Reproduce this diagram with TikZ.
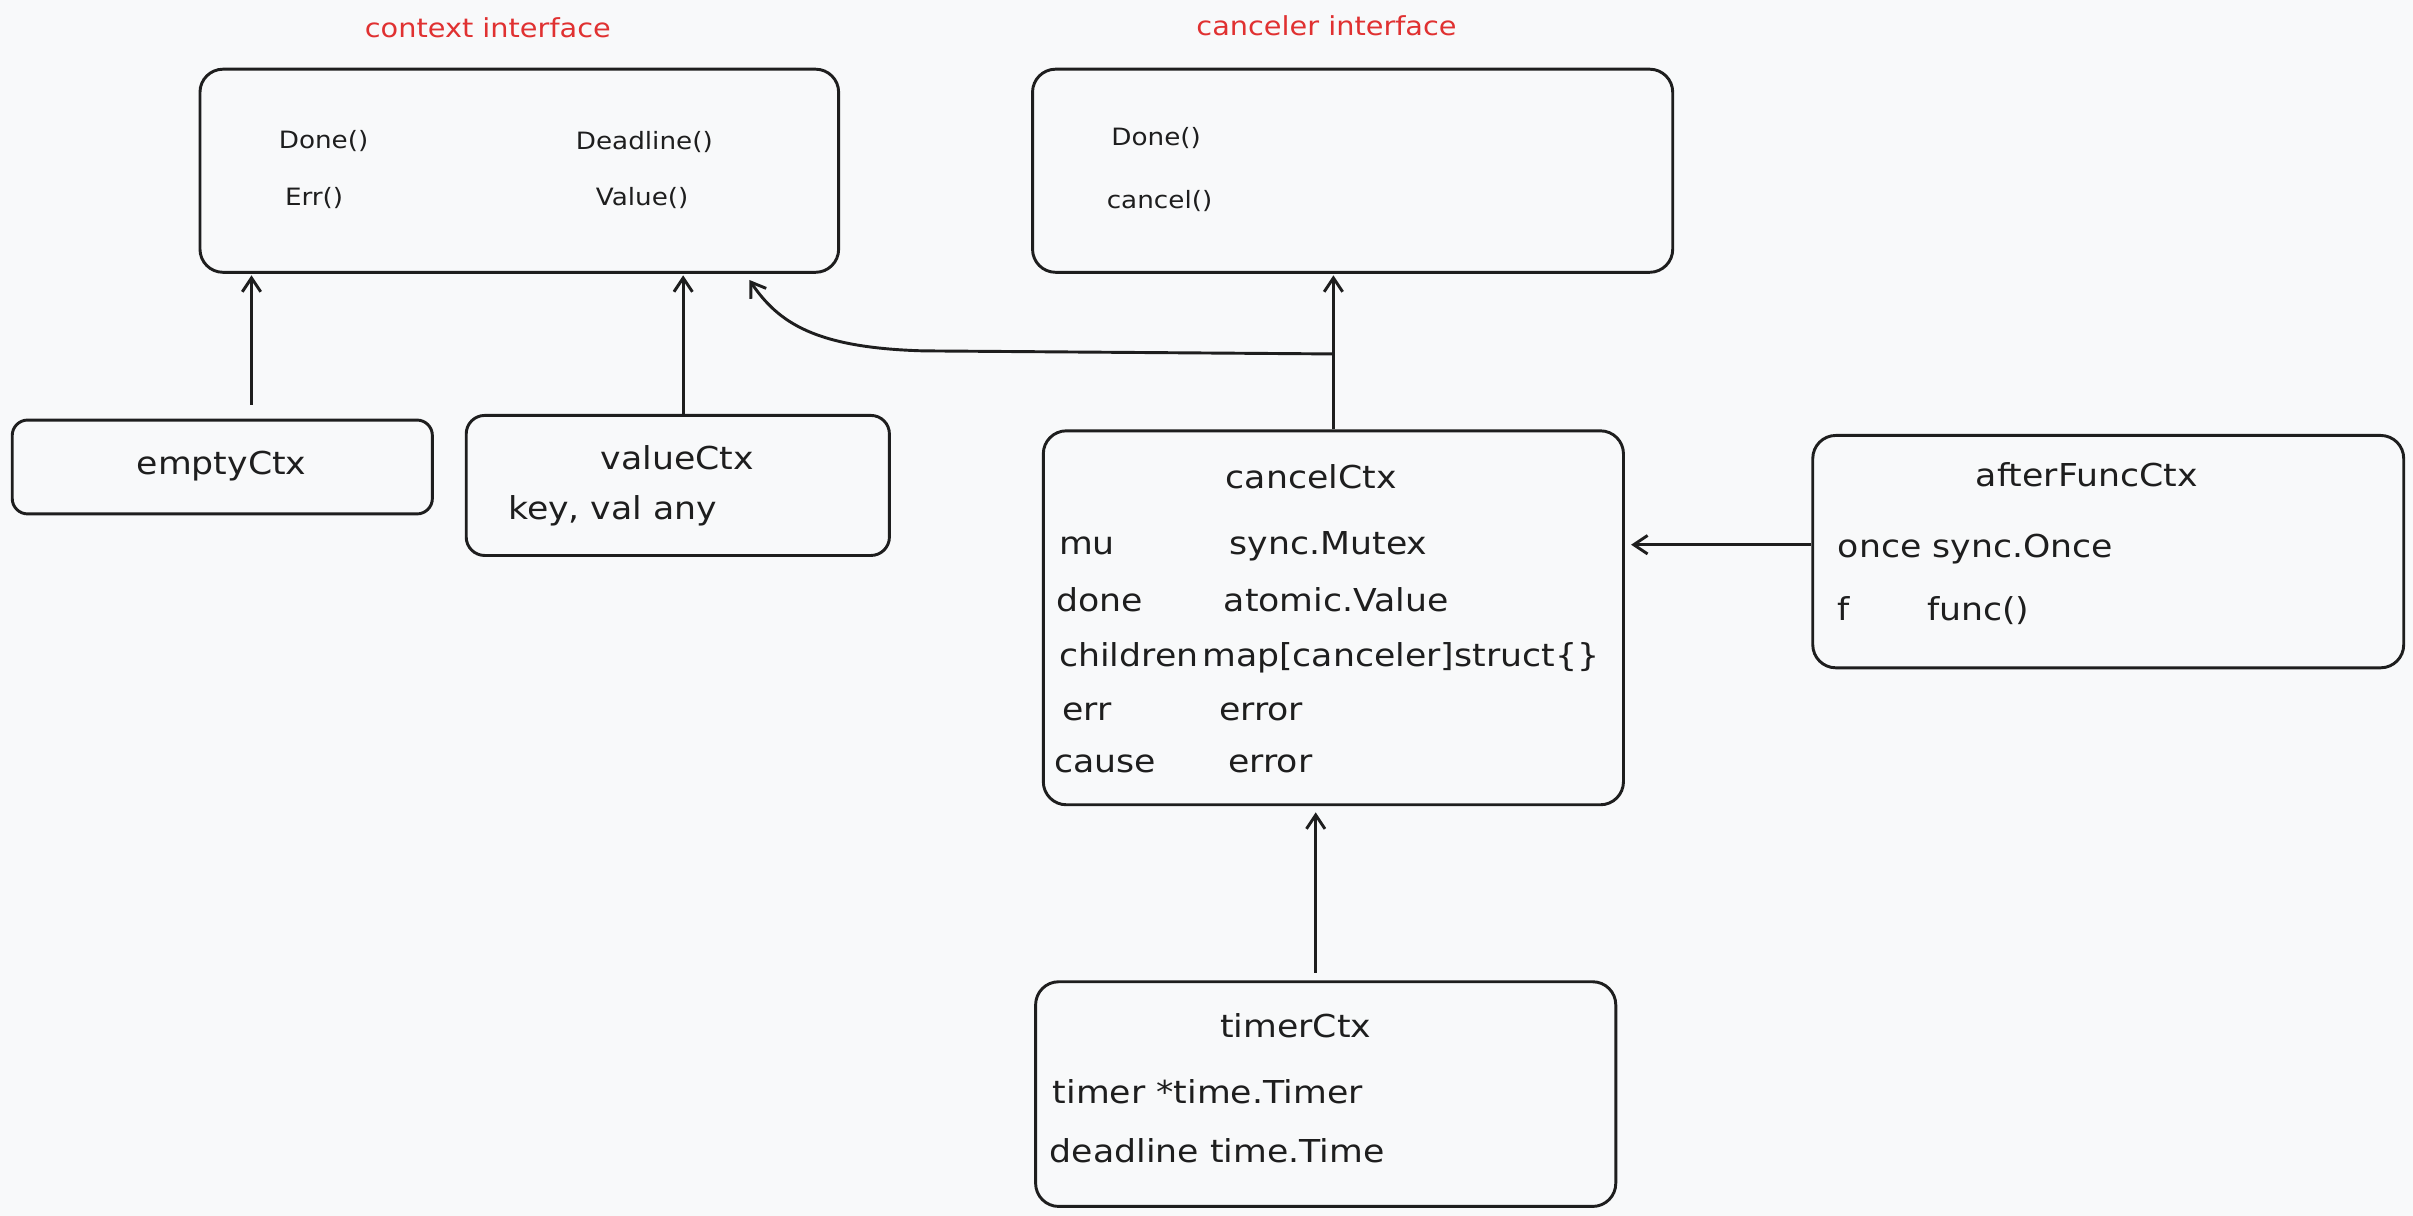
\documentclass[tikz,border=0pt]{standalone}
\usepackage{fontspec}
\setmainfont[FakeStretch=1.1]{DejaVu Sans}
\usetikzlibrary{arrows.meta}
\definecolor{bg}{RGB}{248,249,250}
\definecolor{ink}{RGB}{30,30,30}
\definecolor{redlbl}{RGB}{224,49,49}
\begin{document}
\begin{tikzpicture}[x=1pt,y=-1pt,
 box/.style={draw=ink, line width=1.9pt, rounded corners=15pt, inner sep=0pt, anchor=north west},
 txt/.style={font=\fontsize{20.5}{24}\selectfont, text=ink, anchor=west, inner sep=0pt, text height=1.5ex, text depth=.3ex, yshift=-3pt},
 ttl/.style={txt, anchor=center},
 meth/.style={txt, font=\fontsize{15.5}{18}\selectfont, yshift=1pt},
 lbl/.style={font=\fontsize{17}{20}\selectfont, text=redlbl, inner sep=0pt, text height=1.5ex, text depth=.3ex, yshift=-2pt},
 arr/.style={draw=ink, line width=1.9pt, -{Straight Barb[length=9pt,width=12pt,line width=1.9pt]}}]
\fill[bg] (0,0) rectangle (1568,790);
\useasboundingbox (0,0) rectangle (1568,790);
% boxes
\node[box, minimum width=415pt, minimum height=132pt] (ctx) at (129,44) {};
\node[box, minimum width=416pt, minimum height=132pt] (canc) at (670,44) {};
\node[box, rounded corners=10pt, minimum width=273pt, minimum height=61pt] (empty) at (7,272) {};
\node[box, rounded corners=12pt, minimum width=275pt, minimum height=91pt] (value) at (302,269) {};
\node[box, minimum width=377pt, minimum height=243pt] (cancel) at (677,279) {};
\node[box, minimum width=384pt, minimum height=151pt] (after) at (1177,282) {};
\node[box, minimum width=377pt, minimum height=146pt] (timer) at (672,637) {};
% labels
\node[lbl] (lctx) at (317,19) {context interface};
\node[lbl] (lcanc) at (862,18) {canceler interface};
% context methods
\node[meth] (m1) at (181,91) {Done()};
\node[meth] (m2) at (374,92) {Deadline()};
\node[meth] (m3) at (185,128) {Err()};
\node[meth] (m4) at (387,128) {Value()};
% canceler methods
\node[meth] (c1) at (722,89) {Done()};
\node[meth] (c2) at (719,130) {cancel()};
% titles
\node[ttl] (t1) at (144,302) {emptyCtx};
\node[ttl] (t2) at (440,299) {valueCtx};
\node[ttl] (t3) at (852,311) {cancelCtx};
\node[ttl] (t4) at (1356,310) {afterFuncCtx};
\node[ttl] (t5) at (842,668) {timerCtx};
% valueCtx
\node[txt] (v1) at (330,331) {key, val any};
% cancelCtx fields
\node[txt] (f1) at (688,354) {mu};
\node[txt] (g1) at (799,354) {sync.Mutex};
\node[txt] (f2) at (686,391) {done};
\node[txt] (g2) at (795,391) {atomic.Value};
\node[txt] (f3) at (688,427) {children};
\node[txt] (g3) at (781,427) {map[canceler]struct\{\}};
\node[txt] (f4) at (690,462) {err};
\node[txt] (g4) at (792,462) {error};
\node[txt] (f5) at (685,496) {cause};
\node[txt] (g5) at (798,496) {error};
% afterFuncCtx fields
\node[txt] (a1) at (1194,356) {once sync.Once};
\node[txt] (a2) at (1194,397) {f};
\node[txt] (a3) at (1252,397) {func()};
% timerCtx fields
\node[txt] (p1) at (684,711) {timer *time.Timer};
\node[txt] (p2) at (682,749) {deadline time.Time};
% connectors
\draw[arr, shorten <=9pt, shorten >=1pt] ([xshift=19pt]empty.north) -- ([xshift=19pt]empty.north |- ctx.south);
\draw[arr, shorten >=1pt] ([xshift=3.5pt]value.north) -- ([xshift=3.5pt]value.north |- ctx.south);
\draw[arr, shorten >=1pt] (cancel.north) -- (cancel.north |- canc.south);
\coordinate (j) at ([yshift=49pt]cancel.north);
\coordinate (je) at ([xshift=-59pt,yshift=-4pt]ctx.south east);
\draw[arr] (j) -- (600,228) .. controls (530,226) and (506,210) .. (je);
\draw[arr, shorten >=4pt] ([yshift=4.5pt]after.west) -- ([yshift=4.5pt]after.west -| cancel.east);
\draw[arr, shorten <=5pt, shorten >=4pt] ([xshift=-6.5pt]timer.north) -- ([xshift=-6.5pt]timer.north |- cancel.south);
\end{tikzpicture}
\end{document}
